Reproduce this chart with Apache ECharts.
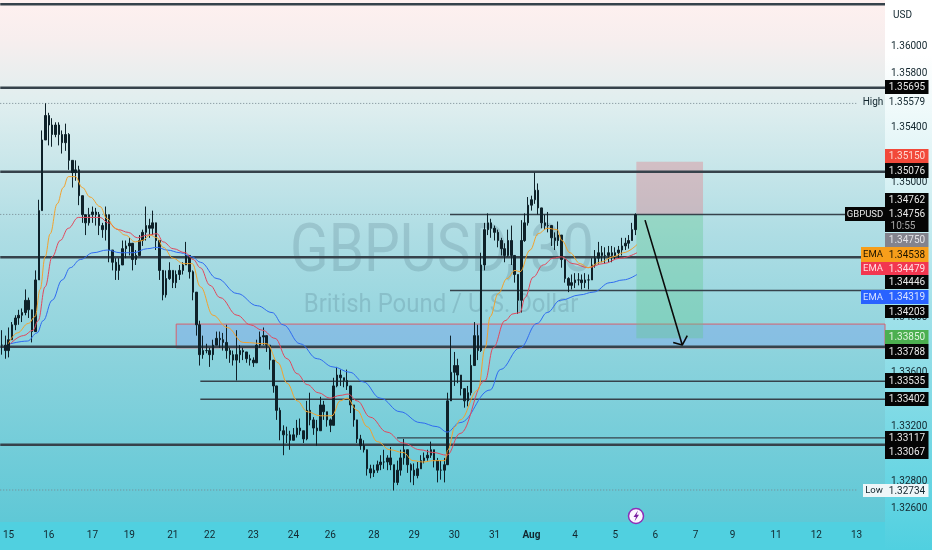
<!DOCTYPE html>
<html><head><meta charset="utf-8">
<style>html,body{margin:0;padding:0;background:#fff}#c{width:932px;height:550px}</style>
<script src="https://cdn.jsdelivr.net/npm/echarts@6/dist/echarts.min.js"></script>
</head><body><div id="c"></div>
<script>
// Prices in units of 0.0001 USD, one 2-hour candle each
const closes=[13380,13376,13384,13395,13400,13402,13404,13413,13406,13390,13428,13479,13531,13549,13542,13535,13542,13535,13529,13535,13516,13507,13509,13490,13476,13470,13476,13478,13476,13468,13465,13476,13450,13441,13435,13439,13451,13453,13455,13443,13446,13457,13463,13468,13466,13470,13457,13435,13417,13429,13435,13426,13432,13435,13439,13446,13434,13419,13395,13373,13376,13376,13373,13380,13385,13384,13382,13376,13373,13369,13373,13376,13375,13370,13369,13367,13380,13386,13387,13380,13369,13350,13332,13317,13314,13314,13310,13314,13319,13317,13311,13332,13325,13319,13317,13336,13331,13325,13321,13350,13358,13356,13354,13350,13336,13325,13311,13306,13303,13289,13286,13288,13292,13294,13294,13297,13292,13279,13288,13297,13303,13292,13288,13284,13289,13295,13297,13299,13303,13295,13288,13288,13292,13339,13360,13365,13358,13348,13339,13345,13365,13387,13376,13439,13465,13470,13466,13463,13457,13451,13446,13457,13446,13432,13413,13457,13470,13483,13487,13494,13481,13470,13468,13468,13459,13457,13461,13443,13429,13424,13426,13428,13428,13426,13428,13428,13439,13444,13448,13446,13446,13448,13446,13448,13450,13453,13455,13457,13465,13476];
const highs=[13391,13387,13393,13397,13402,13406,13407,13421,13415,13397,13435,13487,13538,13558,13551,13547,13544,13544,13538,13543,13536,13516,13516,13512,13490,13476,13481,13482,13481,13478,13470,13482,13476,13450,13444,13444,13457,13457,13459,13446,13450,13461,13465,13482,13473,13479,13463,13450,13432,13435,13441,13435,13435,13439,13441,13456,13446,13435,13417,13398,13387,13381,13378,13384,13390,13390,13389,13395,13378,13376,13391,13380,13378,13375,13373,13371,13384,13390,13393,13387,13376,13367,13347,13334,13321,13320,13317,13319,13325,13326,13317,13339,13345,13327,13325,13342,13339,13331,13326,13356,13364,13362,13356,13362,13347,13334,13321,13314,13310,13299,13292,13292,13295,13299,13303,13299,13305,13292,13295,13303,13311,13299,13293,13293,13294,13299,13301,13303,13309,13303,13297,13295,13297,13345,13387,13375,13370,13358,13348,13350,13373,13397,13395,13448,13470,13477,13473,13468,13465,13459,13455,13465,13468,13446,13432,13472,13477,13489,13490,13507,13499,13479,13476,13478,13466,13463,13471,13461,13443,13430,13432,13433,13433,13432,13433,13432,13444,13450,13456,13453,13452,13453,13453,13452,13453,13459,13459,13461,13470,13477];
const lows=[13373,13370,13371,13384,13391,13395,13397,13402,13400,13382,13395,13428,13479,13535,13527,13526,13533,13527,13521,13523,13509,13496,13501,13483,13470,13461,13468,13470,13468,13461,13459,13457,13441,13435,13428,13428,13439,13444,13446,13435,13439,13448,13453,13457,13459,13461,13450,13428,13413,13415,13428,13422,13422,13428,13432,13439,13429,13413,13387,13365,13370,13374,13364,13369,13380,13378,13376,13370,13367,13365,13354,13367,13369,13367,13365,13364,13370,13378,13380,13375,13362,13345,13325,13310,13299,13308,13303,13310,13312,13314,13308,13310,13321,13314,13306,13317,13325,13320,13316,13321,13349,13350,13349,13347,13330,13320,13308,13303,13301,13284,13282,13283,13286,13288,13289,13288,13288,13273,13277,13284,13292,13286,13279,13277,13282,13289,13293,13295,13297,13290,13279,13281,13279,13294,13343,13350,13352,13343,13334,13335,13343,13365,13369,13375,13435,13461,13459,13457,13452,13446,13441,13445,13439,13426,13403,13404,13456,13468,13479,13484,13476,13466,13465,13463,13453,13450,13453,13437,13426,13419,13421,13422,13424,13421,13422,13421,13428,13437,13440,13441,13440,13441,13441,13443,13444,13446,13450,13451,13457,13461];
// EMA readings: position in bars from the left edge, value in 0.0001 USD
const emaFastBars=[2.4,5.1,8.4,10.4,11.9,13.4,14.9,17,18.8,20.3,22.4,24.5,26.8,29.8,31.9,34.3,37.3,40.3,42.4,44.7,46.8,48.6,51.6,54.6,57.3,59.7,63.5,67.7,72.5,79.6,82.9,85.6,88.6,91.6,95.5,99,101.4,103.5,106.5,109.5,112.5,116.3,120.2,123.2,126.2,129.2,132.7,133.6,135.7,137.2,142.6,144.7,146.2,148.6,151.2,153.6,155.1,158.1,160.5,163.2,166.2,167.6,170,173,175.4,179,182.9,185.9,190];
const emaFast=[13381,13389,13396,13401,13421,13445,13462,13484,13496,13504,13504,13496,13489,13482,13473,13466,13461,13456,13457,13461,13459,13452,13444,13440,13440,13423,13402,13393,13382,13381,13367,13352,13339,13331,13328,13328,13339,13341,13332,13320,13309,13303,13301,13295,13294,13295,13295,13303,13320,13325,13347,13378,13401,13418,13429,13435,13434,13450,13462,13466,13465,13457,13448,13440,13437,13441,13445,13448,13454];
const emaMidBars=[3,6.9,9.8,11.3,13.4,15.5,17.9,20.3,23.3,26,29.8,32.2,35.2,38.2,40.9,43.9,46.8,48.6,51.6,55.2,57.6,59.7,62.6,65.6,70.7,74.6,78.2,82,85.6,88.6,91.6,94.9,98.4,101.4,103.8,106.5,110.4,115.4,120.2,125.3,129.2,133.3,137.2,144.7,147.1,150.6,153,155.1,156.6,159,162,165,167.4,170.9,175.4,179.9,185,190];
const emaMid=[13381,13387,13391,13398,13423,13445,13457,13466,13474,13474,13474,13470,13465,13463,13459,13461,13462,13456,13451,13448,13443,13437,13424,13415,13402,13395,13391,13385,13370,13359,13351,13345,13341,13343,13344,13339,13327,13316,13308,13303,13301,13299,13315,13354,13378,13398,13403,13404,13415,13430,13439,13444,13445,13440,13437,13440,13444,13448];
const emaSlowBars=[3,8.1,11,12.8,15.5,18.5,20.9,23.9,27.7,31.9,35.8,39.7,43.9,46.8,49.8,53.7,57.3,59.7,64.7,70.7,76.7,81.1,84.4,89.5,94.6,99.3,104.4,108.3,113.4,119.3,125.3,130.4,133.3,137.2,146.2,149.2,155.1,160.2,163.2,167.1,173,176.9,182,185.9,190];
const emaSlow=[13381,13383,13389,13398,13413,13428,13437,13443,13448,13450,13448,13448,13451,13452,13450,13448,13445,13441,13429,13418,13409,13404,13395,13381,13370,13364,13360,13353,13341,13331,13323,13320,13316,13323,13347,13362,13378,13396,13404,13413,13417,13419,13426,13428,13432];
// Drawn levels
const levelPrices=[1.36309,1.35695,1.35076,1.34762,1.34446,1.34203,1.33788,1.33535,1.33402,1.33117,1.33067];
const levelStarts=[0,0,0,134.2,0,134.2,0,59.7,59.7,118.4,0];
const levelWidths=[2.5,2.5,2.5,1.5,2.5,1.5,2.5,1.5,1.5,1.2,2.5];
const dottedPrices=[1.35579,1.34762,1.32734];
const dottedEnds=[256,134.2,256];
// Axis text
const tickLabels=['1.36000','1.35800','1.35400','1.35000','1.34000','1.33600','1.33200','1.32800','1.32600'];
const dayLabels=['15','16','17','19','21','22','23','24','26','28','29','30','31','Aug','4','5','6','7','9','11','12','13'];
const dayBars=[2,14,27,38,51,62,75,87,98,111,123,135,147,158,171,183,195,207,218,231,243,255];
// Price tags on the right scale: text, top, bottom, fill, ink
const tagTexts=['1.35695','1.35150','1.35076','1.34750','1.34538','1.34479','1.34446','1.34319','1.34203','1.33850','1.33788','1.33535','1.33402','1.33117','1.33067'];
const tagTops=[80,149,163,233,247,262,275,290,305,330,344,373,392,431,445];
const tagBottoms=[94,163,178,247,262,275,289,304,318,344,359,388,406,445,459];
const tagFills=['#050505','#f2493a','#050505','#83838d','#f79e1b','#f23750','#050505','#2962ff','#050505','#4caf50','#050505','#050505','#050505','#050505','#050505'];
const tagInks=['#e8e8e8','#ffd8d0','#e8e8e8','#e4e4e8','#1a1400','#ffdfe3','#e8e8e8','#d8e2ff','#e8e8e8','#e0f5e0','#e8e8e8','#e8e8e8','#e8e8e8','#e8e8e8','#e8e8e8'];

const PIP=1e-4, NBARS=264;
const cats=Array.from({length:NBARS},(_,i)=>{const k=dayBars.indexOf(i);return k>=0?dayLabels[k]:'';});
const candle=closes.map((c,i)=>[(i?closes[i-1]:c)*PIP,c*PIP,lows[i]*PIP,highs[i]*PIP]);
const pairs=(b,v)=>b.map((x,i)=>[x,v[i]*PIP]);
const FONT='Roboto';
const ink='#12262e';

const series=[];
function line(data,color,width,type,z,smooth){series.push({type:'line',xAxisIndex:1,data,symbol:'none',silent:true,z:z||3,
  smooth:smooth||false,smoothMonotone:smooth?'x':undefined,
  lineStyle:{color,width,type:type||'solid',cap:'butt'},animation:false});}

// boxes
series.push({type:'line',xAxisIndex:1,data:[],silent:true,z:1,markArea:{silent:true,z:1,data:[
 [{coord:[52.5,1.33955],itemStyle:{color:'rgba(125,170,232,0.5)',borderColor:'#d8606c',borderWidth:1}},{coord:[264,1.33780]}],
 [{coord:[189.8,1.35150],itemStyle:{color:'rgba(226,120,130,0.36)'}},{coord:[209.7,1.34762]}],
 [{coord:[189.8,1.34762],itemStyle:{color:'rgba(96,200,140,0.36)'}},{coord:[209.7,1.33850]}]
]}});
levelPrices.forEach((p,i)=>line([[levelStarts[i],p],[NBARS,p]],'#36424b',levelWidths[i]));
dottedPrices.forEach((p,i)=>line([[0,p],[dottedEnds[i],p]],'#75878f',1,[1,2]));
line(pairs(emaSlowBars,emaSlow),'#2f6bf0',1,null,6,0.4);
line(pairs(emaMidBars,emaMid),'#e2485c',1,null,6,0.4);
line(pairs(emaFastBars,emaFast),'#f2a22e',1,null,6,0.4);
series.push({type:'candlestick',xAxisIndex:0,data:candle,barWidth:2,z:5,silent:true,
 itemStyle:{color:'#0e2129',color0:'#0e2129',borderColor:'#0e2129',borderColor0:'#0e2129',borderWidth:1}});
// sell arrow
line([[192.4,1.3472],[203.5,1.33801],[200.8,1.3382],[203.5,1.33801],[205,1.33870]],'#0a0a0a',1.6,null,8);

const g=[];
function rect(x,y,w,h,fill,z,stroke){g.push({type:'rect',silent:true,z:z,shape:{x,y,width:w,height:h},style:{fill,stroke:stroke||null}});}
function txt(x,y,t,color,z,size,align,weight){g.push({type:'text',silent:true,z:z,x,y,style:{text:t,fill:color,font:(weight||'normal')+' '+(size||10)+'px '+FONT,textAlign:align||'center',textVerticalAlign:'middle'}});}
const vgrad=(s)=>({type:'linear',x:0,y:0,x2:0,y2:1,colorStops:s});
rect(0,0,885,522,vgrad([{offset:0,color:'#fff0ef'},{offset:0.08,color:'#f6eeee'},{offset:0.2,color:'#dfeeef'},{offset:0.45,color:'#aedde4'},{offset:0.7,color:'#89d2dc'},{offset:1,color:'#5fc8d6'}]),0);
rect(0,522,885,28,'#50d0e0',0);
rect(885,0,47,550,vgrad([{offset:0,color:'#ffffff'},{offset:0.1,color:'#ffffff'},{offset:0.3,color:'#dff4f6'},{offset:0.55,color:'#a4e2ea'},{offset:1,color:'#50d0e0'}]),0);
// watermark
g.push({type:'text',silent:true,z:1,x:442,y:254,scaleX:0.86,style:{text:'GBPUSD, 30',fill:'rgba(40,70,90,0.16)',font:'normal 66px '+FONT,textAlign:'center',textVerticalAlign:'middle'}});
g.push({type:'text',silent:true,z:1,x:441,y:305,scaleX:0.92,style:{text:'British Pound / U.S. Dollar',fill:'rgba(40,70,90,0.17)',font:'normal 26px '+FONT,textAlign:'center',textVerticalAlign:'middle'}});
// tags
const TZ=100, TX=885, TW=43.5;
tagTexts.forEach((t,i)=>{rect(TX,tagTops[i],TW,tagBottoms[i]-tagTops[i],tagFills[i],TZ);txt(TX+22,(tagTops[i]+tagBottoms[i])/2+.5,t,tagInks[i],TZ+1,10);});
rect(TX,193,TW,39,'#050505',TZ);
txt(TX+22,200,'1.34762','#e8e8e8',TZ+1,10);txt(TX+22,214,'1.34756','#e8e8e8',TZ+1,10);txt(TX+18,226,'10:55','#a8a8a8',TZ+1,10);
rect(845,207,40,14,'#050505',TZ);txt(865,214.5,'GBPUSD','#e8e8e8',TZ+1,9.5);
rect(861,247,24,15,'#f79e1b',TZ);txt(873,255,'EMA','#1a1400',TZ+1,9.5);
rect(861,262,24,13,'#f23750',TZ);txt(873,269,'EMA','#ffdfe3',TZ+1,9.5);
rect(861,290,24,14,'#2962ff',TZ);txt(873,297.5,'EMA','#d8e2ff',TZ+1,9.5);
rect(863,484,22,13,'#eef6f8',TZ);txt(874,491,'Low',ink,TZ+1,9.5);
rect(TX,484,TW,13,'#eef6f8',TZ);txt(TX+22,491,'1.32734',ink,TZ+1,10);
txt(873,102,'High',ink,TZ+1,10);txt(TX+22,102,'1.35579',ink,TZ+1,10);
txt(902.5,15,'USD',ink,TZ+1,10);
// lightning badge
g.push({type:'circle',silent:true,z:TZ,shape:{cx:636,cy:516,r:7.5},style:{fill:'#fbf6ff',stroke:'#8e2fb8',lineWidth:1.5}});
g.push({type:'polygon',silent:true,z:TZ+1,shape:{points:[[638,510.5],[633.5,517],[636,517],[634.5,521.5],[639,514.8],[636.5,514.8]]},style:{fill:'#7a1fa2'}});

const chart=echarts.init(document.getElementById('c'),null,{renderer:'canvas'});
chart.setOption({
 animation:false,
 backgroundColor:'#ffffff',
 grid:{left:0,top:0,width:885,height:521.8,containLabel:false},
 xAxis:[
  {type:'category',data:cats,axisLine:{show:false},axisTick:{show:false},splitLine:{show:false},
   axisLabel:{show:true,interval:(i)=>dayBars.indexOf(i)>=0,margin:9,hideOverlap:false,
    formatter:(v)=>v==='Aug'?'{b|Aug}':v,color:ink,fontFamily:FONT,fontSize:10,
    rich:{b:{fontWeight:'bold',color:ink,fontFamily:FONT,fontSize:10}}}},
  {type:'value',min:0,max:NBARS,show:false,splitLine:{show:false}}
 ],
 yAxis:{type:'value',position:'right',min:1.325,max:1.3634,interval:0.001,scale:true,
  axisLine:{show:false},axisTick:{show:false},splitLine:{show:false},
  axisLabel:{inside:false,margin:6,color:ink,fontFamily:FONT,fontSize:10,showMinLabel:true,showMaxLabel:true,
   formatter:(v)=>{const s=v.toFixed(5);return tickLabels.indexOf(s)>=0?s:'';}}},
 graphic:g,
 series
});
</script></body></html>
